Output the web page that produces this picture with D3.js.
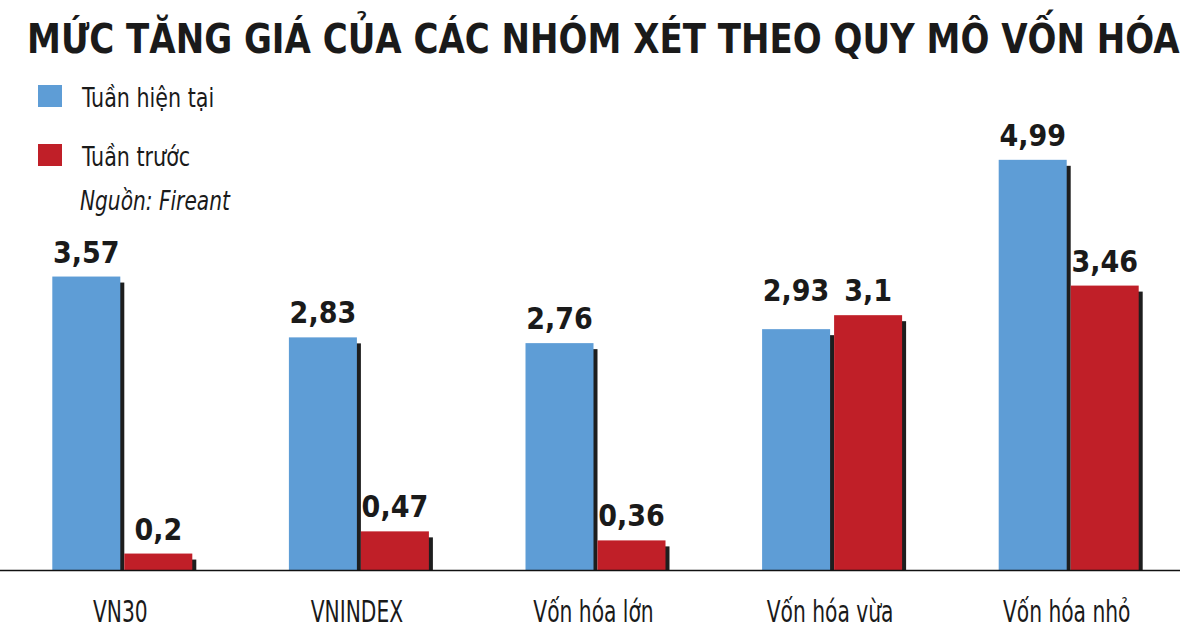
<!DOCTYPE html>
<html>
<head>
<meta charset="utf-8">
<script src="https://cdn.jsdelivr.net/npm/d3@7"></script>
<style>
  body { margin: 0; background: #fff; }
  svg { display: block; }
  text { fill: #1a1a1a; }
</style>
</head>
<body>
<svg width="1200" height="629"></svg>
<script>
const categories = ["VN30", "VNINDEX", "Vốn hóa lớn", "Vốn hóa vừa", "Vốn hóa nhỏ"];
const currentWeek = [3.57, 2.83, 2.76, 2.93, 4.99];
const previousWeek = [0.2, 0.47, 0.36, 3.1, 3.46];
const seriesNames = ["Tuần hiện tại", "Tuần trước"];
const colors = ["#5e9dd6", "#c01f28"];

const FONT = "'DejaVu Sans Condensed', 'Liberation Sans Narrow', sans-serif";
const fmt = v => String(v).replace(".", ",");

const svg = d3.select("svg");
const baseY = 570;

const x = d3.scaleBand().domain(categories).range([6, 1189]);
const y = d3.scaleLinear().domain([0, 5]).range([baseY, baseY - 5 * 82.2]);

// narrow text: scale horizontally around its anchor
const narrow = (sel, tx, ty, sx) =>
  sel.attr("transform", `translate(${tx},${ty}) scale(${sx},1)`);

// title, squeezed to the reference width
const title = svg.append("text")
  .attr("font-family", FONT).attr("font-weight", "bold").attr("font-size", 41)
  .text("MỨC TĂNG GIÁ CỦA CÁC NHÓM XÉT THEO QUY MÔ VỐN HÓA");
const titleW = title.node().getComputedTextLength();
title.call(narrow, 27, 53, Math.min(1, 1153 / titleW));

// legend
const legend = svg.append("g");
seriesNames.forEach((name, i) => {
  const ly = 85 + i * 59;
  legend.append("rect").attr("x", 38).attr("y", ly).attr("width", 24).attr("height", 22)
    .attr("fill", colors[i]);
  legend.append("text")
    .attr("font-family", FONT).attr("font-size", 27).text(name)
    .call(narrow, 82, ly + 22, 0.85);
});
legend.append("text")
  .attr("font-family", FONT).attr("font-size", 27).attr("font-style", "italic")
  .text("Nguồn: Fireant")
  .call(narrow, 80, 210, 0.83);

const barW = 68, shadowW = 5;
const series = [currentWeek, previousWeek];
const offsets = [-72, 0];

const groups = svg.selectAll("g.group")
  .data(categories)
  .join("g").attr("class", "group")
  .attr("transform", d => `translate(${x(d) + x.bandwidth() / 2},0)`);

series.forEach((vals, s) => {
  // shadow
  groups.append("rect")
    .attr("x", offsets[s] + barW - 1)
    .attr("y", (d, i) => y(vals[i]) + 6)
    .attr("width", shadowW)
    .attr("height", (d, i) => baseY - y(vals[i]) - 6)
    .attr("fill", "#1e1e1e");
  groups.append("rect")
    .attr("x", offsets[s])
    .attr("y", (d, i) => y(vals[i]))
    .attr("width", barW)
    .attr("height", (d, i) => baseY - y(vals[i]))
    .attr("fill", colors[s]);
});

// value labels
series.forEach((vals, s) => {
  groups.append("text")
    .attr("x", offsets[s] + barW / 2)
    .attr("y", (d, i) => {
      const a = currentWeek[i], b = previousWeek[i];
      const v = Math.abs(a - b) < 0.5 ? Math.max(a, b) : vals[i];
      return y(v) - 14;
    })
    .attr("text-anchor", "middle")
    .attr("font-family", FONT).attr("font-weight", "bold").attr("font-size", 30)
    .text((d, i) => fmt(vals[i]));
});

// axis
const axis = svg.append("g")
  .attr("transform", `translate(-4,${baseY})`)
  .call(d3.axisBottom(x).tickSize(0).tickPadding(0));
axis.select(".domain").remove();
axis.selectAll("text")
  .attr("y", 0).attr("dy", 0)
  .attr("transform", "translate(0,52) scale(0.75,1)")
  .attr("font-family", FONT).attr("font-size", 30)
  .style("fill", "#1a1a1a");

svg.append("line")
  .attr("x1", 0).attr("x2", 1180).attr("y1", baseY + 0.5).attr("y2", baseY + 0.5)
  .attr("stroke", "#111").attr("stroke-width", 1.5);
</script>
</body>
</html>
